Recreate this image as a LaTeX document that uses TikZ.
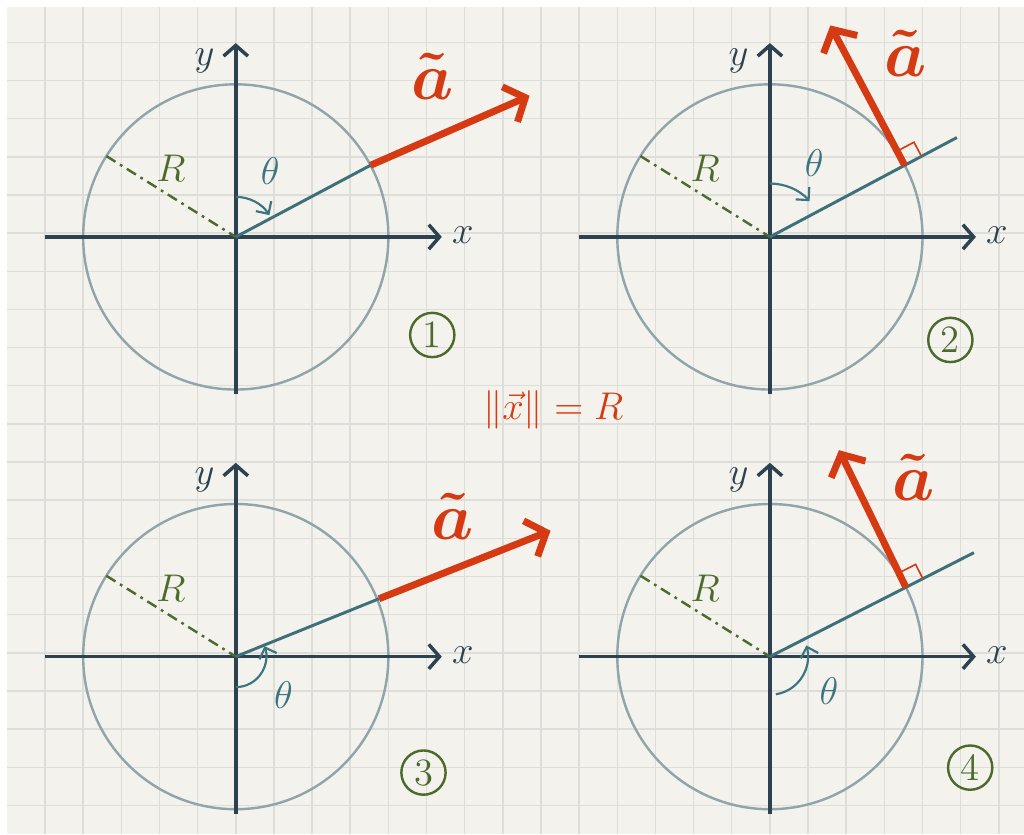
\documentclass[tikz,border=0pt]{standalone}
\usetikzlibrary{arrows.meta,calc}
\definecolor{paper}{RGB}{243,242,237}
\definecolor{gridgray}{RGB}{221,221,217}
\definecolor{axiscol}{RGB}{44,66,80}
\definecolor{circlecol}{RGB}{143,165,170}
\definecolor{tealcol}{RGB}{62,112,121}
\definecolor{thetacol}{RGB}{60,116,128}
\definecolor{redcol}{RGB}{214,58,18}
\definecolor{rcol}{RGB}{75,106,44}
\begin{document}
\begin{tikzpicture}[
    x=0.5cm, y=0.5cm,
    every node/.style={font=\Large},
    gridline/.style={draw=gridgray, line width=0.55pt},
    axisline/.style={-{Straight Barb[length=1.4mm,width=3.2mm]}, axiscol, line width=1.3pt},
    ring/.style={circlecol, line width=0.9pt},
    rline/.style={rcol, line width=0.9pt, dash pattern=on 4pt off 2pt on 1pt off 2pt},
    spoke/.style={tealcol, line width=1.1pt},
    vec/.style={-{Straight Barb[length=2.2mm,width=5mm]}, redcol, line width=2.6pt},
    angarrow/.style={-{Straight Barb[length=1.2mm,width=2.4mm]}, thetacol, line width=0.8pt},
    rightmark/.style={redcol, line width=0.6pt},
    vlabel/.style={text=redcol, font=\Huge\boldmath},
    num/.style={circle, draw=rcol, text=rcol, line width=0.9pt, minimum size=0.58cm, inner sep=0pt, font=\Large},
]
% paper and grid
\useasboundingbox (-6.18,-15.65) rectangle (20.66,6.21);
\fill[white] (-6.18,-15.65) rectangle (20.66,6.21);
\fill[paper] (-6,-15.65) rectangle (20.66,6.03);
\foreach \i in {-5,...,20} \draw[gridline] (\i,-15.65) -- (\i,6.03);
\foreach \j in {-15,...,5} \draw[gridline] (-6,\j+0.1) -- (20.66,\j+0.1);

% the four panels
\foreach \px/\py/\n/\nx/\ny in {0/0/1/5.15/-2.57, 14/0/2/4.73/-2.7, 0/-11/3/4.92/-3.04, 14/-11/4/5.25/-2.91}{
  \begin{scope}[shift={(\px,\py)}]
    \coordinate (o\n) at (0,0);
    \coordinate (xa\n) at (-5,0);
    \coordinate (xb\n) at (5.4,0);
    \coordinate (ya\n) at (0,-4.12);
    \coordinate (yb\n) at (0,5.08);
    \coordinate (r\n) at (148:4);
    \draw[ring] (o\n) circle (4);
    \draw[axisline] (xa\n) -- (xb\n);
    \draw[axisline] (ya\n) -- (yb\n);
    \node[text=axiscol] (xl\n) at (5.95,0.05) {$x$};
    \node[text=axiscol] (yl\n) at (-0.82,4.62) {$y$};
    \draw[rline] (r\n) -- (o\n);
    \node[text=rcol] (rl\n) at (-1.7,1.8) {$R$};
    \node[num] (n\n) at (\nx,\ny) {\n};
  \end{scope}
}

% panel 1
\coordinate (c1) at (28:4);
\coordinate (t1) at (7.7,3.7);
\coordinate (s1) at (0,1.05);
\draw[spoke] (o1) -- (c1);
\draw[vec] (c1) -- (t1);
\draw[angarrow] (s1) arc[start angle=90, end angle=33, radius=1.05];
\node[text=thetacol] (th1) at (0.9,1.72) {$\theta$};
\node[vlabel] (a1) at (5.15,4.2) {$\tilde{a}$};

% panel 2
\coordinate (c2) at ($(o2)+(28:4)$);
\coordinate (e2) at ($(o2)+(28:5.55)$);
\coordinate (t2) at ($(c2)+(118:4.15)$);
\coordinate (s2) at ($(o2)+(0,1.4)$);
\draw[spoke] (o2) -- (e2);
\draw[rightmark] ($(c2)+(118:0.42)$) -- ++(28:0.5) -- ++(-62:0.42);
\draw[vec] (c2) -- (t2);
\draw[angarrow] (s2) arc[start angle=90, end angle=42, radius=1.4];
\node[text=thetacol] (th2) at (15.16,1.94) {$\theta$};
\node[vlabel] (a2) at (17.56,4.82) {$\tilde{a}$};

% panel 3
\coordinate (c3) at ($(o3)+(22:4.05)$);
\coordinate (t3) at (8.25,-7.7);
\coordinate (s3) at ($(o3)+(0,-0.8)$);
\draw[spoke] (o3) -- (c3);
\draw[vec] (c3) -- (t3);
\draw[angarrow] (s3) arc[start angle=-90, end angle=20, radius=0.8];
\node[text=thetacol] (th3) at (1.25,-12.0) {$\theta$};
\node[vlabel] (a3) at (5.69,-7.33) {$\tilde{a}$};

% panel 4
\coordinate (c4) at ($(o4)+(27:4)$);
\coordinate (e4) at ($(o4)+(27:6)$);
\coordinate (t4) at ($(c4)+(116:4)$);
\coordinate (s4) at ($(o4)+(-81:1)$);
\draw[spoke] (o4) -- (e4);
\draw[rightmark] ($(c4)+(117:0.42)$) -- ++(27:0.5) -- ++(-63:0.42);
\draw[vec] (c4) -- (t4);
\draw[angarrow] (s4) arc[start angle=-81, end angle=17, radius=1];
\node[text=thetacol] (th4) at (15.55,-11.9) {$\theta$};
\node[vlabel] (a4) at (17.77,-6.31) {$\tilde{a}$};

\node[text=redcol] (norm) at (8.32,-4.53) {$\|\vec{x}\|=R$};
\end{tikzpicture}
\end{document}
